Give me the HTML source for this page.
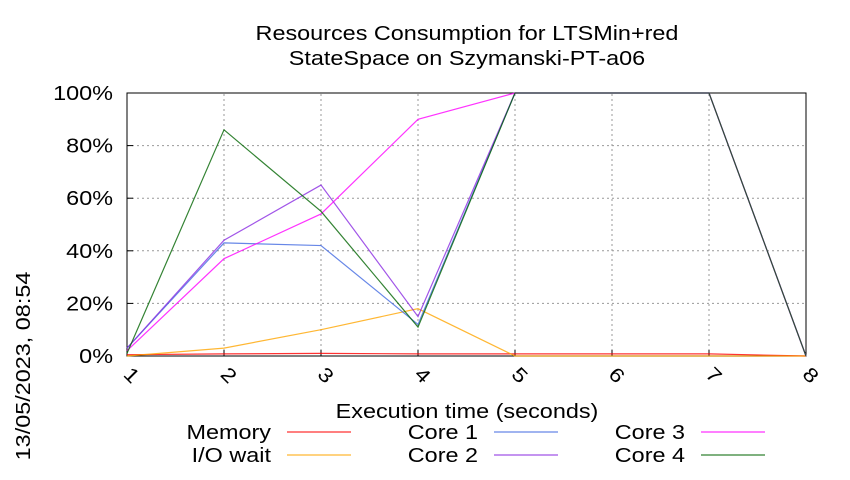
<!DOCTYPE html>
<html><head><meta charset="utf-8"><style>
body{margin:0;background:#fff;}
svg text{font-family:"Liberation Sans",sans-serif;fill:#000;}
</style></head><body>
<svg id="c" width="850" height="475">
<text x="467" y="40" font-size="20" text-anchor="middle">Resources Consumption for LTSMin+red</text>
<text x="467" y="65" font-size="20" text-anchor="middle">StateSpace on Szymanski-PT-a06</text>
<text transform="translate(30,366) rotate(-90)" font-size="20" text-anchor="middle">13/05/2023, 08:54</text>
<text x="467" y="418" font-size="20" text-anchor="middle">Execution time (seconds)</text>
<g id="grid"></g><g id="series"></g><g id="legend"></g>
</svg>
<script>
const xTicks=[1,2,3,4,5,6,7,8];
const yTicks=[0,20,40,60,80,100];
const memory=[0.5,0.8,1,0.8,0.8,0.8,0.8,0];
const ioWait=[0,3,10,18,0,0,0,0];
const core1=[3,43,42,12,100,100,100,0];
const core2=[3,44,65,15,100,100,100,0];
const core3=[2,37,54,90,100,100,100,0];
const core4=[1,86,55,11,100,100,100,0];
const NS="http://www.w3.org/2000/svg";
const X0=127,X1=806,Y0=356,Y1=93;
function xs(v){return X0+(v-1)*(X1-X0)/7;}
function ys(v){return Y0-v*(Y0-Y1)/100;}
function mk(t,a,p){const e=document.createElementNS(NS,t);for(const k in a)e.setAttribute(k,a[k]);p.appendChild(e);return e;}
const g=document.getElementById('grid');
yTicks.forEach(v=>{
 if(v>0){const l=mk('line',{x1:X0,x2:X1,y1:ys(v),y2:ys(v),stroke:'#999','stroke-dasharray':'2,3'},g);
 
 }
 const t=mk('text',{x:X0-14,y:ys(v)+7,'font-size':20,'text-anchor':'end'},g);t.textContent=v+'%';
 
 
 mk('line',{x1:X0,x2:X0+6,y1:ys(v),y2:ys(v),stroke:'#000'},g);
});
xTicks.forEach(v=>{
 if(v>1&&v<8){const l=mk('line',{x1:xs(v),x2:xs(v),y1:Y0,y2:Y1,stroke:'#999','stroke-dasharray':'2,3'},g);
 
 }
 mk('line',{x1:xs(v),x2:xs(v),y1:Y0,y2:Y0-6,stroke:'#000'},g);
 const t=mk('text',{transform:`translate(${xs(v)},${Y0+24}) rotate(45)`,'font-size':20,'text-anchor':'middle'},g);t.textContent=v;
 
 
});
const fr=mk('rect',{x:X0,y:Y1,width:X1-X0,height:Y0-Y1,fill:'none',stroke:'#000','stroke-width':1},g);


const ser=[["Memory",memory,"#ff0000"],["I/O wait",ioWait,"#ffa500"],["Core 1",core1,"#4169e1"],["Core 2",core2,"#8a2be2"],["Core 3",core3,"#ff00ff"],["Core 4",core4,"#006400"]];
const sg=document.getElementById('series'),lg=document.getElementById('legend');
ser.forEach((s,i)=>{
 const p=mk('polyline',{points:s[1].map((v,j)=>xs(xTicks[j])+','+ys(v)).join(' '),fill:'none',stroke:s[2],'stroke-width':1.2,opacity:0.8},sg);
 
 
 const col=Math.floor(i/2),row=i%2;
 const tx=271+col*207,ty=439+row*23;
 const t=mk('text',{x:tx,y:ty,'font-size':20,'text-anchor':'end'},lg);t.textContent=s[0];
 
 
 const l=mk('line',{x1:tx+16,x2:tx+80,y1:ty-7,y2:ty-7,stroke:s[2],'stroke-width':1.2,opacity:0.8},lg);
 
 
});
document.querySelectorAll('svg text').forEach(t=>{
 const w=t.getComputedTextLength();
 t.setAttribute('textLength',(w*1.17).toFixed(1));
 t.setAttribute('lengthAdjust','spacingAndGlyphs');
});
</script>
</body></html>
